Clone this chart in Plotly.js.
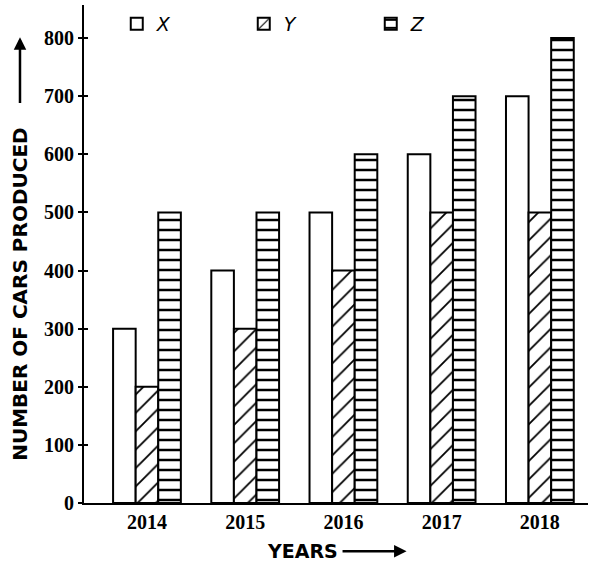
<!DOCTYPE html>
<html>
<head>
<meta charset="utf-8">
<script src="https://cdn.plot.ly/plotly-3.0.1.min.js"></script>
<style>html,body{margin:0;padding:0;background:#fff;}#chart{width:589px;height:571px;}</style>
</head>
<body>
<div id="chart"></div>
<script>
const years = ['2014', '2015', '2016', '2017', '2018'];
const seriesX = [300, 400, 500, 600, 700];
const seriesY = [200, 300, 400, 500, 500];
const seriesZ = [500, 500, 600, 700, 800];
const yTicks = [0, 100, 200, 300, 400, 500, 600, 700, 800];

const line = {color: '#000', width: 2};
const traces = [
  {type: 'bar', name: 'X', x: years, y: seriesX,
   marker: {color: '#fff', line: line}},
  {type: 'bar', name: 'Y', x: years, y: seriesY,
   marker: {color: '#fff', line: line,
            pattern: {shape: '/', size: 13, solidity: 0.14, fgcolor: '#000', bgcolor: '#fff'}}},
  {type: 'bar', name: 'Z', x: years, y: seriesZ,
   marker: {color: '#fff', line: line,
            pattern: {shape: '-', size: 10, solidity: 0.25, fgcolor: '#000', bgcolor: '#fff'}}},
  {type: 'scatter', mode: 'markers', x: [years[0]], y: [null], yaxis: 'y2',
   showlegend: false, hoverinfo: 'skip'}
];

const tickFont = {family: 'Liberation Serif', size: 20, color: '#000', weight: 'bold'};
const titleFont = {family: 'DejaVu Sans', size: 20, color: '#000', weight: 'bold'};

const layout = {
  width: 589, height: 571,
  margin: {l: 84, r: 1, t: 5, b: 68},
  paper_bgcolor: '#fff', plot_bgcolor: '#fff',
  barmode: 'group', bargap: 0.31, bargroupgap: 0,
  showlegend: true,
  legend: {orientation: 'h', x: 0.065, xanchor: 'left', y: 1.0, yanchor: 'top',
           entrywidth: 82, entrywidthmode: 'pixels', bgcolor: 'rgba(0,0,0,0)',
           font: {family: 'DejaVu Sans', size: 19, style: 'italic', color: '#000'}},
  xaxis: {type: 'category', range: [-0.641, 4.49], showline: true, linecolor: '#000', linewidth: 2,
          ticks: '', showgrid: false, zeroline: false, tickfont: tickFont, fixedrange: true},
  yaxis: {range: [0, 857], tickvals: yTicks, ticktext: yTicks.map(String), showline: true,
          linecolor: '#000', linewidth: 2, ticks: 'outside', ticklen: 4, tickwidth: 2, tickcolor: '#000',
          showgrid: false, zeroline: false, tickfont: tickFont, fixedrange: true},
  yaxis2: {range: [0, 857], overlaying: 'y', side: 'left', tickvals: yTicks, showticklabels: false,
           ticks: 'inside', ticklen: 4, tickwidth: 2, tickcolor: '#000', showline: false,
           showgrid: false, zeroline: false, fixedrange: true},
  annotations: [
    {text: 'NUMBER OF CARS PRODUCED', xref: 'paper', yref: 'paper', x: -0.127, y: 0.42,
     textangle: -90, showarrow: false, font: titleFont, xanchor: 'center', yanchor: 'middle'},
    {text: '', xref: 'paper', yref: 'paper', x: -0.127, y: 0.935, ax: -0.127, ay: 0.8,
     axref: 'paper', ayref: 'paper', showarrow: true, arrowhead: 2, arrowsize: 1, arrowwidth: 2.5, arrowcolor: '#000'},
    {text: '<b>YEARS</b>', xref: 'paper', yref: 'paper', x: 0.433, y: -0.097,
     showarrow: false, font: {family: 'DejaVu Sans', size: 19, color: '#000'}, xanchor: 'center', yanchor: 'middle'},
    {text: '', xref: 'paper', yref: 'paper', x: 0.64, y: -0.097, ax: 0.51, ay: -0.097,
     axref: 'paper', ayref: 'paper', showarrow: true, arrowhead: 2, arrowsize: 1, arrowwidth: 2.5, arrowcolor: '#000'}
  ]
};

Plotly.newPlot('chart', traces, layout, {displayModeBar: false, staticPlot: true});
</script>
</body>
</html>
